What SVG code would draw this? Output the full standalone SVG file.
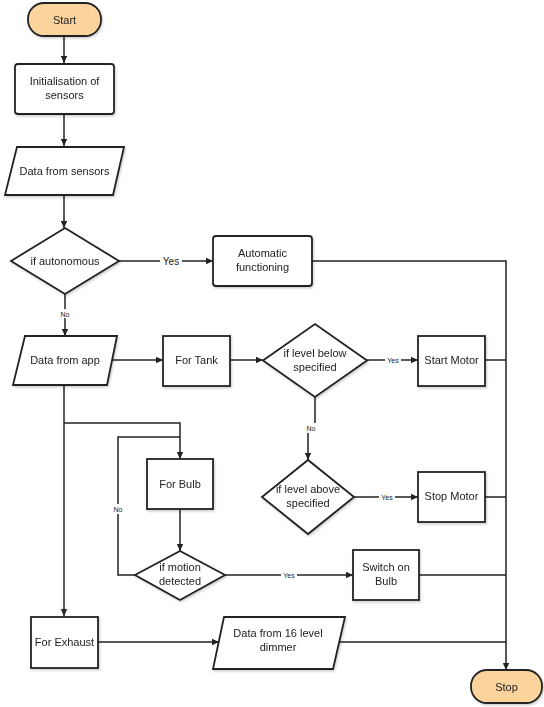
<svg xmlns="http://www.w3.org/2000/svg" width="544" height="707" viewBox="0 0 544 707">
<style>
.n{fill:#fff;stroke:#222;stroke-width:1.8}
.t{fill:#fad49c;stroke:#222;stroke-width:1.8}
.c{fill:none;stroke:#222;stroke-width:1.5}
text{font-family:"Liberation Sans",Arial,sans-serif;font-size:11px;fill:#222;text-anchor:middle}
.l{font-size:7px}
.lb{font-size:10px}
</style>
<defs>
<marker id="a" markerWidth="8" markerHeight="8" refX="7" refY="4" orient="auto" markerUnits="userSpaceOnUse">
<path d="M0,0.8 L7,4 L0,7.2 Z" fill="#222"/>
</marker>
<filter id="s" x="-10%" y="-10%" width="130%" height="130%">
<feDropShadow dx="1" dy="1.5" stdDeviation="1" flood-color="#000" flood-opacity="0.2"/>
</filter>
</defs>
<rect width="544" height="707" fill="#fff"/>
<g id="connectors">
<path class="c" d="M64,36 V63" marker-end="url(#a)"/>
<path class="c" d="M64,114 V146" marker-end="url(#a)"/>
<path class="c" d="M64,196 V228" marker-end="url(#a)"/>
<path class="c" d="M119,261 H213" marker-end="url(#a)"/>
<path class="c" d="M65,294 V336" marker-end="url(#a)"/>
<path class="c" d="M312,261 H506 V670" marker-end="url(#a)"/>
<path class="c" d="M112,360 H163" marker-end="url(#a)"/>
<path class="c" d="M230,360 H263" marker-end="url(#a)"/>
<path class="c" d="M367,360 H418" marker-end="url(#a)"/>
<path class="c" d="M485,360 H506"/>
<path class="c" d="M315,397 V428 H308 V460" marker-end="url(#a)"/>
<path class="c" d="M354,497 H418" marker-end="url(#a)"/>
<path class="c" d="M485,497 H506"/>
<path class="c" d="M64,386 V616" marker-end="url(#a)"/>
<path class="c" d="M64,423 H180 V459" marker-end="url(#a)"/>
<path class="c" d="M135,575 H118 V437 H180"/>
<path class="c" d="M180,509 V551" marker-end="url(#a)"/>
<path class="c" d="M225,575 H353" marker-end="url(#a)"/>
<path class="c" d="M419,575 H506"/>
<path class="c" d="M98,642 H219" marker-end="url(#a)"/>
<path class="c" d="M339,642 H506"/>
<rect x="160" y="255" width="22" height="12" fill="#fff"/>
<text class="lb" x="171" y="264.5">Yes</text>
<rect x="58" y="309" width="14" height="9" fill="#fff"/>
<text class="l" x="65" y="316.5">No</text>
<rect x="385" y="356" width="16" height="8" fill="#fff"/>
<text class="l" x="393" y="362.5">Yes</text>
<rect x="304" y="423" width="14" height="10" fill="#fff"/>
<text class="l" x="311" y="430.5">No</text>
<rect x="379" y="493" width="16" height="8" fill="#fff"/>
<text class="l" x="387" y="499.5">Yes</text>
<rect x="281" y="571" width="16" height="8" fill="#fff"/>
<text class="l" x="289" y="577.5">Yes</text>
<rect x="111" y="504" width="14" height="10" fill="#fff"/>
<text class="l" x="118" y="511.5">No</text>
</g>
<g id="start" filter="url(#s)">
<rect class="t" x="28" y="3" width="73" height="33" rx="16"/>
<text x="64.5" y="23.5">Start</text>
</g>
<g id="init" filter="url(#s)">
<rect class="n" x="15" y="64" width="99" height="50" rx="3"/>
<text x="64.5" y="85">Initialisation of</text>
<text x="64.5" y="99">sensors</text>
</g>
<g id="sensors" filter="url(#s)">
<polygon class="n" points="17,147 124,147 113,195 5,195"/>
<text x="64.5" y="175">Data from sensors</text>
</g>
<g id="autonomous" filter="url(#s)">
<polygon class="n" points="11,261 65,228 119,261 65,294"/>
<text x="65" y="265">if autonomous</text>
</g>
<g id="automatic" filter="url(#s)">
<rect class="n" x="213" y="236" width="99" height="50" rx="3"/>
<text x="262.5" y="256.5">Automatic</text>
<text x="262.5" y="270.5">functioning</text>
</g>
<g id="app" filter="url(#s)">
<polygon class="n" points="25,336 117,336 107,385 13,385"/>
<text x="65" y="364">Data from app</text>
</g>
<g id="tank" filter="url(#s)">
<rect class="n" x="163" y="336" width="67" height="50"/>
<text x="196.5" y="364">For Tank</text>
</g>
<g id="levelbelow" filter="url(#s)">
<polygon class="n" points="263,360.5 315,324 367,360.5 315,397"/>
<text x="315" y="356.5">if level below</text>
<text x="315" y="370.5">specified</text>
</g>
<g id="startmotor" filter="url(#s)">
<rect class="n" x="418" y="336" width="67" height="50"/>
<text x="451.5" y="364">Start Motor</text>
</g>
<g id="levelabove" filter="url(#s)">
<polygon class="n" points="262,497 308,460 354,497 308,534"/>
<text x="308" y="492.5">if level above</text>
<text x="308" y="506.5">specified</text>
</g>
<g id="stopmotor" filter="url(#s)">
<rect class="n" x="418" y="472" width="67" height="50"/>
<text x="451.5" y="500">Stop Motor</text>
</g>
<g id="bulb" filter="url(#s)">
<rect class="n" x="147" y="459" width="66" height="50"/>
<text x="180" y="487.5">For Bulb</text>
</g>
<g id="motion" filter="url(#s)">
<polygon class="n" points="135,575 180,551 225,575 180,600"/>
<text x="180" y="570.5">if motion</text>
<text x="180" y="584.5">detected</text>
</g>
<g id="switchbulb" filter="url(#s)">
<rect class="n" x="353" y="550" width="66" height="50"/>
<text x="386" y="570.5">Switch on</text>
<text x="386" y="584.5">Bulb</text>
</g>
<g id="exhaust" filter="url(#s)">
<rect class="n" x="31" y="617" width="67" height="51"/>
<text x="64.5" y="646">For Exhaust</text>
</g>
<g id="dimmer" filter="url(#s)">
<polygon class="n" points="224,617 345,617 333,669 213,669"/>
<text x="278" y="637">Data from 16 level</text>
<text x="278" y="651">dimmer</text>
</g>
<g id="stop" filter="url(#s)">
<rect class="t" x="471" y="670" width="71" height="33" rx="16"/>
<text x="506.5" y="690.5">Stop</text>
</g>
</svg>
